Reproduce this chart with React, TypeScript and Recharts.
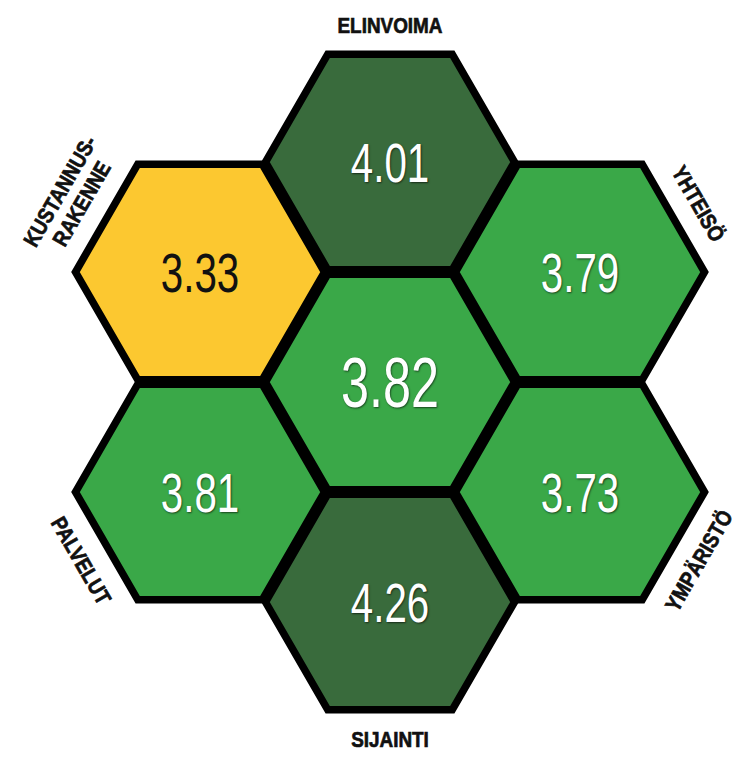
import React from 'react';
import { ScatterChart, Scatter, XAxis, YAxis } from 'recharts';

// hex cells, clockwise from the top, centre cell last
const categories = ['ELINVOIMA', 'YHTEISÖ', 'YMPÄRISTÖ', 'SIJAINTI', 'PALVELUT', 'KUSTANNUSRAKENNE', 'KESKIARVO'];
const labelLines = [['ELINVOIMA'], ['YHTEISÖ'], ['YMPÄRISTÖ'], ['SIJAINTI'], ['PALVELUT'], ['KUSTANNUS-', 'RAKENNE'], []];
const scores = [4.01, 3.79, 3.73, 4.26, 3.81, 3.33, 3.82];
// honeycomb grid position (column, half-row)
const gridCol = [0, 1, 1, 0, -1, -1, 0];
const gridRow = [2, 1, -1, -2, -1, 1, 0];

const W = 738;
const H = 757;
const HEX_R = 124.5;
const LABEL_DIST = 137;
const LINE_H = 25;

const FONT = '"Liberation Sans", Arial, sans-serif';

const data = categories.map((name, i) => ({
    name,
    lines: labelLines[i],
    value: scores[i],
    col: gridCol[i],
    row: gridRow[i],
}));

const colorFor = (v: number) => {
    if (v >= 4) return '#396b3c';
    if (v >= 3.5) return '#3aa848';
    return '#fcc830';
};

const HexCell = (props: any) => {
    const { cx, cy, payload } = props;
    if (cx == null || cy == null) return null;
    const pts = [0, 1, 2, 3, 4, 5]
        .map((i) => {
            const a = (Math.PI / 3) * i;
            return `${cx + HEX_R * Math.cos(a)},${cy + HEX_R * Math.sin(a)}`;
        })
        .join(' ');
    const isCenter = payload.col === 0 && payload.row === 0;
    const fill = colorFor(payload.value);
    const textColor = payload.value < 3.5 ? '#111' : '#fff';
    const fontSize = isCenter ? 70 : 56;

    let label = null;
    if (!isCenter && payload.lines.length) {
        const dx = payload.col * 1.5;
        const dy = -payload.row * (Math.sqrt(3) / 2);
        const len = Math.hypot(dx, dy);
        const ux = dx / len;
        const uy = dy / len;
        let rot = (Math.atan2(uy, ux) * 180) / Math.PI + 90;
        if (rot > 90) rot -= 180;
        if (rot < -90) rot += 180;
        const lx = cx + ux * LABEL_DIST;
        const ly = cy + uy * LABEL_DIST;
        const n = payload.lines.length;
        label = (
            <g transform={`translate(${lx},${ly}) rotate(${rot}) scale(0.86,1)`}>
                {payload.lines.map((t: string, i: number) => (
                    <text
                        key={t}
                        x={0}
                        y={-(n - 1 - i) * LINE_H}
                        dy="0.36em"
                        textAnchor="middle"
                        fontFamily={FONT}
                        fontWeight={700}
                        fontSize={22}
                        fill="#111"
                        stroke="#111"
                        strokeWidth={0.7}
                    >
                        {t}
                    </text>
                ))}
            </g>
        );
    }

    return (
        <g>
            <polygon points={pts} fill={fill} stroke="#000" strokeWidth={7.5} strokeLinejoin="miter" />
            <g transform={`translate(${cx},${cy}) scale(0.72,1)`}>
                <text
                    x={0}
                    y={0}
                    dy="0.36em"
                    textAnchor="middle"
                    fontFamily={FONT}
                    fontSize={fontSize}
                    fill={textColor}
                    style={{ textShadow: payload.value < 3.5 ? 'none' : '1px 1px 2px rgba(0,0,0,0.6)' }}
                >
                    {payload.value.toFixed(2)}
                </text>
            </g>
            {label}
        </g>
    );
};

const App: React.FC = () => {
    return (
        <div style={{ position: 'absolute', left: 0, top: 0, width: W, height: H, background: '#fff' }}>
            <ScatterChart width={W} height={H} margin={{ top: 0, right: 0, bottom: 0, left: 0 }}>
                <XAxis type="number" dataKey="col" domain={[-390 / 190, 348 / 190]} allowDataOverflow hide />
                <YAxis type="number" dataKey="row" domain={[-375 / 110, 382 / 110]} allowDataOverflow hide />
                <Scatter data={data} shape={HexCell} isAnimationActive={false} />
            </ScatterChart>
        </div>
    );
};

export default App;
